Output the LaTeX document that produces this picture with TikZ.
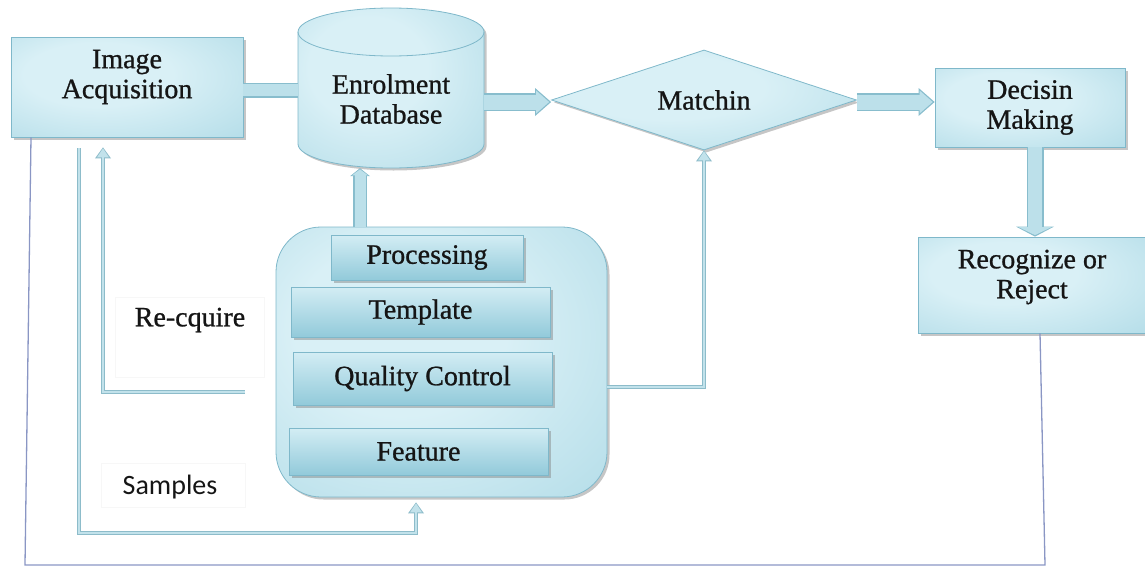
\documentclass[tikz,border=0pt]{standalone}
\usepackage{fontspec}
\setmainfont{Liberation Serif}[BoldFont=Liberation Serif, BoldFeatures={FakeBold=0.9}]
\newfontfamily\samplesfont{Carlito}
\usetikzlibrary{shapes.geometric, arrows.meta, shadows, calc}

\definecolor{glassA}{HTML}{D9F0F6}
\definecolor{glassB}{HTML}{B6DEE9}
\definecolor{glassC}{HTML}{86C4D6}
\definecolor{stepTop}{HTML}{D3EDF4}
\definecolor{stepBot}{HTML}{92CADA}
\definecolor{rimline}{HTML}{7FB8CA}
\definecolor{pipefill}{HTML}{BCE0EA}
\definecolor{pipeedge}{HTML}{88BDCD}
\definecolor{wirefill}{HTML}{C2E2EB}
\definecolor{wireedge}{HTML}{8DBCCA}
\definecolor{backline}{HTML}{8A96C4}
\definecolor{inkcol}{HTML}{151515}

% glassy fill: light centre, teal rim
\pgfdeclareradialshading{glass}{\pgfpoint{-8bp}{8bp}}{color(0bp)=(glassA); color(16bp)=(glassA); color(40bp)=(glassB); color(70bp)=(glassC)}

\tikzset{
  softshadow/.style={drop shadow={shadow xshift=2.5pt, shadow yshift=-2.5pt, opacity=0.45, fill=black!50}},
  box/.style={rectangle, draw=rimline, line width=0.8pt, shade, shading=glass, inner sep=0pt, align=center, softshadow},
  stepbox/.style={rectangle, draw=rimline, line width=0.8pt, top color=stepTop, bottom color=stepBot, inner sep=0pt, align=center, softshadow},
  % thick bar and block arrows
  pipe/.style={preaction={draw=pipeedge, line width=15pt}, draw=pipefill, line width=12pt},
  fatA/.style={preaction={draw=pipeedge, line width=18pt, shorten >=0pt, -{Triangle[length=16pt,width=28pt,line width=0pt]}},
               draw=pipefill, line width=15pt, -{Triangle[length=13pt,width=23pt,line width=0pt]}, shorten >=2pt},
  fatB/.style={preaction={draw=pipeedge, line width=17pt, shorten >=0pt, -{Triangle[length=10pt,width=38pt,line width=0pt]}},
               draw=pipefill, line width=14pt, -{Triangle[length=8pt,width=33pt,line width=0pt]}, shorten >=1.5pt},
  fatC/.style={preaction={draw=pipeedge, line width=14pt, shorten >=0pt, -{Triangle[length=8pt,width=20pt,line width=0pt]}},
               draw=pipefill, line width=11pt, -{Triangle[length=6pt,width=16pt,line width=0pt]}, shorten >=1.2pt},
  % slim feedback connectors
  wire arrow/.style={preaction={draw=wireedge, line width=4.5pt, shorten >=0pt, -{Triangle[length=11pt,width=16pt,line width=0pt]}},
                     draw=wirefill, line width=2.4pt, -{Triangle[length=9pt,width=12pt,line width=0pt]}, shorten >=1pt},
  returnline/.style={draw=backline, line width=1.3pt},
}

\begin{document}
\begin{tikzpicture}[x=1pt, y=-1pt, font=\fontsize{28}{30}\selectfont\bfseries, text=inkcol]
\useasboundingbox (0,0) rectangle (1145,565);

% acquisition stage
\node[box, minimum width=232pt, minimum height=100pt,
      label={[name=iat, align=center, yshift=10pt]center:Image\\Acquisition}] (ia) at (127,87) {};

% enrolment database cylinder
\shade[shading=glass, draw=rimline, line width=0.8pt, softshadow]
  (298,32) -- (298,144) arc[start angle=180, end angle=360, x radius=93pt, y radius=24pt]
  -- (484,32) arc[start angle=0, end angle=180, x radius=93pt, y radius=24pt] -- cycle;
\draw[draw=rimline, line width=0.8pt] (298,32) arc[start angle=180, end angle=360, x radius=93pt, y radius=24pt];
\node[minimum width=186pt, minimum height=160pt, inner sep=0pt,
      label={[name=dbt, align=center, yshift=-11pt]center:Enrolment\\Database}] (db) at (391,88) {};

% matching and decision
\node[diamond, aspect=3, draw=rimline, line width=0.8pt, shade, shading=glass, inner sep=0pt,
      minimum width=305pt, minimum height=100pt, softshadow] (match) at (704,100) {Matchin};
\node[box, minimum width=190pt, minimum height=79pt] (dec) at (1030,107.5) {Decisin\\Making};
\node[box, minimum width=228pt, minimum height=96pt,
      label={[name=rect, align=center, yshift=8pt]center:Recognize or\\Reject}] (rec) at (1032,285) {};

% processing block with its steps
\node[box, rounded corners=45pt, minimum width=331pt, minimum height=270pt] (proc) at (441.5,362) {};
\node[stepbox, minimum width=192pt, minimum height=45pt] (p1) at (427,257.5) {Processing};
\node[stepbox, minimum width=259pt, minimum height=50pt] (p2) at (420.5,312) {Template};
\node[stepbox, minimum width=259pt, minimum height=53pt] (p3) at (422.5,378.5) {Quality Control};
\node[stepbox, minimum width=259pt, minimum height=47pt] (p4) at (418.5,451.5) {Feature};

% side captions
\draw[draw=black!3] (115,297) rectangle (264,377);
\node (rq) at (190,320) {Re-cquire};
\draw[draw=black!3] (101,463) rectangle (245,507);
\node[font=\samplesfont\fontsize{28}{30}\selectfont] (sm) at (170,487) {Samples};

% main flow
\draw[pipe] (ia.east |- 0,90) -- (db.west |- 0,90);
\draw[fatA] (db.east |- 0,102) -- (match.west |- 0,102);
\draw[fatA] (match.east |- 0,102) -- (dec.west |- 0,102);
\draw[fatB] ([xshift=5pt]dec.south) -- ([xshift=3pt]rec.north);
\draw[fatC] (proc.north -| 360,0) -- (db.south -| 360,0);

% re-acquire, samples and quality feedback
\coordinate (rq0) at (245,392);
\draw[wire arrow] (rq0) -| ($(ia.south -| 103,0)+(0,10)$);
\coordinate (sm0) at (79,148);
\coordinate (smc) at (416,533);
\draw[wire arrow] (sm0) |- (smc) -- ($(proc.south -| smc)+(0,5)$);
\draw[wire arrow] (proc.east |- 0,387) -| (match.south);

% outer return loop
\coordinate (fb1) at (1045,565);
\coordinate (fb2) at (25,565);
\draw[returnline] (rec.south -| 1040,0) -- (fb1) -- (fb2) -- (ia.south -| 31,0);
\end{tikzpicture}
\end{document}
